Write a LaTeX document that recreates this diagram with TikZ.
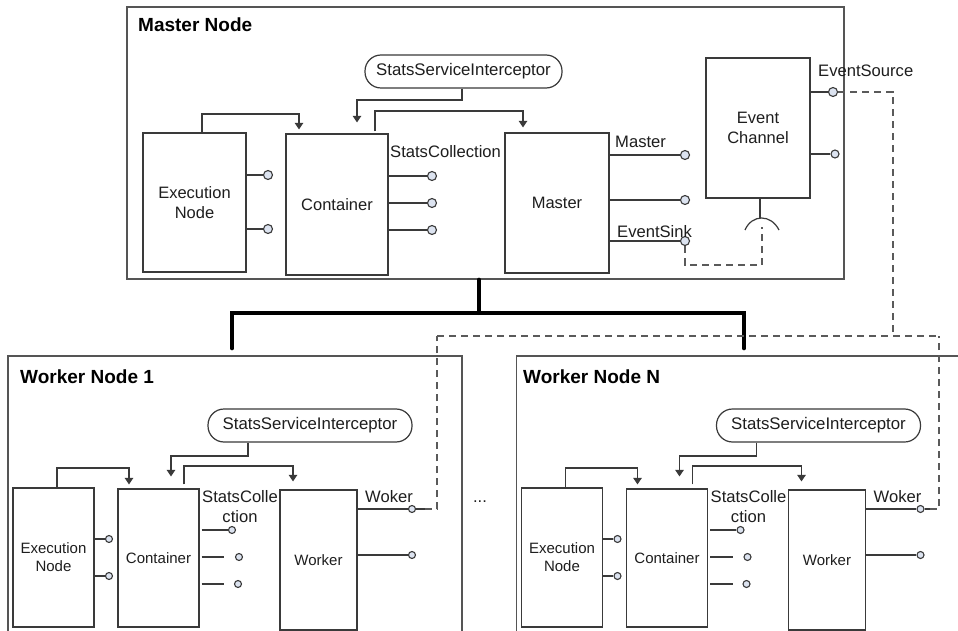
\documentclass[tikz,border=0pt]{standalone}
\usepackage{fontspec}
\setmainfont{Liberation Sans}
\usetikzlibrary{arrows.meta,calc}
\definecolor{ln}{HTML}{3A3A3A}
\definecolor{frm}{HTML}{555555}
\definecolor{portfill}{HTML}{DCE3F0}
\definecolor{dshc}{HTML}{5A5A5A}
\definecolor{txt}{HTML}{1E1E1E}
\tikzset{
  line/.style={draw=ln, line width=1.2pt},
  conn/.style={line, -{Triangle[width=8.5pt,length=6.5pt]}},
  dsh/.style={draw=dshc, line width=1.2pt, dash pattern=on 7pt off 5pt},
  bus/.style={draw=black, line width=4pt, line cap=round},
  frame/.style={draw=frm, line width=1.3pt, inner sep=0},
  rbox/.style={draw=ln, line width=1.2pt, inner sep=0, align=center, text=txt, font=\fontsize{16.5}{20}\selectfont},
  wbox/.style={draw=ln, line width=1.2pt, inner sep=0, align=center, text=txt, font=\fontsize{15}{18}\selectfont},
  pill/.style={draw=ln, line width=1.2pt, inner sep=0, rounded corners=16pt, text=txt, font=\fontsize{16.8}{20}\selectfont},
  title/.style={inner sep=0, text=black, font=\bfseries\fontsize{19}{22}\selectfont},
  lbl/.style={inner sep=0, text=txt, font=\fontsize{16.6}{20}\selectfont},
  port/.style={circle, draw=ln, fill=portfill, line width=1.1pt, minimum size=9pt, inner sep=0},
  sport/.style={port, minimum size=7pt},
}
\newcommand\wbody[2]{%
  \node[frame, minimum width=454pt, minimum height=344pt] (frame) at (235,528) {};
  \node[title, anchor=base west] (title) at (#2,383) {#1};
  \node[pill, minimum width=204pt, minimum height=33pt] (si) at (310,425.5) {StatsServiceInterceptor};
  \node[wbox, minimum width=81pt, minimum height=139pt] (exec) at (53.5,557.5) {Execution\\Node};
  \node[wbox, minimum width=81pt, minimum height=138pt] (cont) at (158.5,558) {Container};
  \node[wbox, minimum width=77pt, minimum height=140pt] (work) at (318.5,560) {Worker};
  \draw[conn] ([xshift=3.5pt]exec.north) |- (129,468) -- ([xshift=-29.5pt,yshift=4pt]cont.north);
  \draw[conn] ([xshift=-62pt]si.south) |- (171,456) -- ([xshift=12.5pt,yshift=12pt]cont.north);
  \draw[conn] ([xshift=25.5pt,yshift=4pt]cont.north) |- (293,466) -- ([xshift=-25.5pt,yshift=8pt]work.north);
  \node[sport] (ep1) at (109,539) {};
  \node[sport] (ep2) at (109,576) {};
  \draw[line] (exec.east |- ep1) -- (ep1);
  \draw[line] (exec.east |- ep2) -- (ep2);
  \node[sport] (cp1) at (232,530) {};
  \node[sport] (cp2) at (239,557) {};
  \node[sport] (cp3) at (238,584) {};
  \draw[line] ([xshift=2pt]cont.east |- cp1) -- (cp1);
  \draw[line] ([xshift=2pt]cont.east |- cp2) -- ([xshift=-10.5pt]cp2.west);
  \draw[line] ([xshift=2pt]cont.east |- cp3) -- ([xshift=-9.5pt]cp3.west);
  \node[lbl, anchor=base west] (sclab1) at (202,502) {StatsColle};
  \node[lbl, anchor=base] (sclab2) at (240,522) {ction};
  \node[sport] (wp1) at (412,509) {};
  \node[sport] (wp2) at (412,555) {};
  \draw[line] (work.east |- wp1) -- (wp1);
  \draw[line] (work.east |- wp2) -- (wp2);
  \node[lbl, anchor=base west] (wklab) at (365,502) {Woker};
}
\begin{document}
\begin{tikzpicture}[x=1pt,y=-1pt]
\clip (0,0) rectangle (958,631);
\fill[white] (0,0) rectangle (958,631);
% ---------------- Master node ----------------
\node[frame, minimum width=717pt, minimum height=272pt] (mnode) at (485.5,143) {};
\node[title, anchor=base west] (mtitle) at (138,32) {Master Node};
\node[pill, minimum width=197pt, minimum height=33pt] (msi) at (463.5,71.5) {StatsServiceInterceptor};
\node[rbox, minimum width=103pt, minimum height=139pt] (mexec) at (194.5,202.5) {Execution\\Node};
\node[rbox, minimum width=102pt, minimum height=141pt] (mcont) at (337,204.5) {Container};
\node[rbox, minimum width=104pt, minimum height=140pt] (mmaster) at (557,203) {Master};
\node[rbox, minimum width=104pt, minimum height=140pt] (mec) at (758,128) {Event\\Channel};
\draw[conn] ([xshift=7.5pt]mexec.north) |- (299,114) -- ([xshift=-38pt,yshift=4pt]mcont.north);
\draw[conn] ([xshift=-1.5pt]msi.south) |- (357,100) -- ([xshift=20pt,yshift=11pt]mcont.north);
\draw[conn] ([xshift=38pt,yshift=2pt]mcont.north) |- (523,111) -- ([xshift=-34pt,yshift=5pt]mmaster.north);
% ports of execution node
\node[port] (mep1) at (268,175) {};
\node[port] (mep2) at (268,229) {};
\draw[line] (mexec.east |- mep1) -- (mep1);
\draw[line] (mexec.east |- mep2) -- (mep2);
% ports of container
\node[port] (mcp1) at (432,176) {};
\node[port] (mcp2) at (432,203) {};
\node[port] (mcp3) at (432,230) {};
\draw[line] (mcont.east |- mcp1) -- (mcp1);
\draw[line] (mcont.east |- mcp2) -- (mcp2);
\draw[line] (mcont.east |- mcp3) -- (mcp3);
\node[lbl, anchor=base west] (mscl) at (390,158) {StatsCollection};
% ports of master
\node[port] (mmp1) at (685,155) {};
\node[port] (mmp2) at (685,200) {};
\node[port] (msink) at (685,241) {};
\draw[line] (mmaster.east |- mmp1) -- (mmp1);
\draw[line] (mmaster.east |- mmp2) -- (mmp2);
\draw[line] (mmaster.east |- msink) -- (msink);
\node[lbl, anchor=base west] (mml) at (615,148) {Master};
\node[lbl, anchor=base west] (msl) at (617,237) {EventSink};
% ports of event channel
\node[port] (mesrc) at (833,92) {};
\node[port, minimum size=8pt] (mecp2) at (835,154) {};
\draw[line] (mec.east |- mesrc) -- (mesrc);
\draw[line] (mec.east |- mecp2) -- (mecp2);
\node[lbl, anchor=base west] (mesl) at (818,77) {EventSource};
% socket (required interface)
\coordinate (sockpeak) at (760,217.5);
\draw[line] ([xshift=2pt]mec.south) -- (sockpeak);
\draw[line] (745,230) .. controls (752,214) and (771,214) .. (779,230);
\coordinate (sock) at (762,227);
\draw[dsh] (msink.south) |- (762,265) -- (sock);
% ---------------- Worker nodes ----------------
\begin{scope}[name prefix=w1-]
  \wbody{Worker Node 1}{20}
\end{scope}
\begin{scope}[xshift=508.5pt, name prefix=wN-]
  \wbody{Worker Node N}{14.5}
\end{scope}
\node[lbl, anchor=base] (dots) at (480,502) {...};
% ---------------- thick bus ----------------
\coordinate (hub) at (479,313);
\draw[bus] ([xshift=-6.5pt]mnode.south) -- (hub);
\draw[bus] ([xshift=-3pt,yshift=7pt]w1-frame.north) |- (hub) -| ([xshift=0.5pt,yshift=7pt]wN-frame.north);
% ---------------- event links (dashed) ----------------
\coordinate (jn) at (893,336);
\coordinate (bl) at (437,336);
\coordinate (br) at (939,336);
\draw[dsh] (mesrc.east) -| (jn);
\draw[dsh] (bl) -- (br);
\coordinate (w1stub) at (425,509);
\coordinate (wNstub) at (930,509);
\draw[line] (w1-wp1.east) -- (w1stub);
\draw[line] (wN-wp1.east) -- (wNstub);
\draw[dsh] (w1stub) -| (bl);
\draw[dsh] (wNstub) -| (br);
\end{tikzpicture}
\end{document}
